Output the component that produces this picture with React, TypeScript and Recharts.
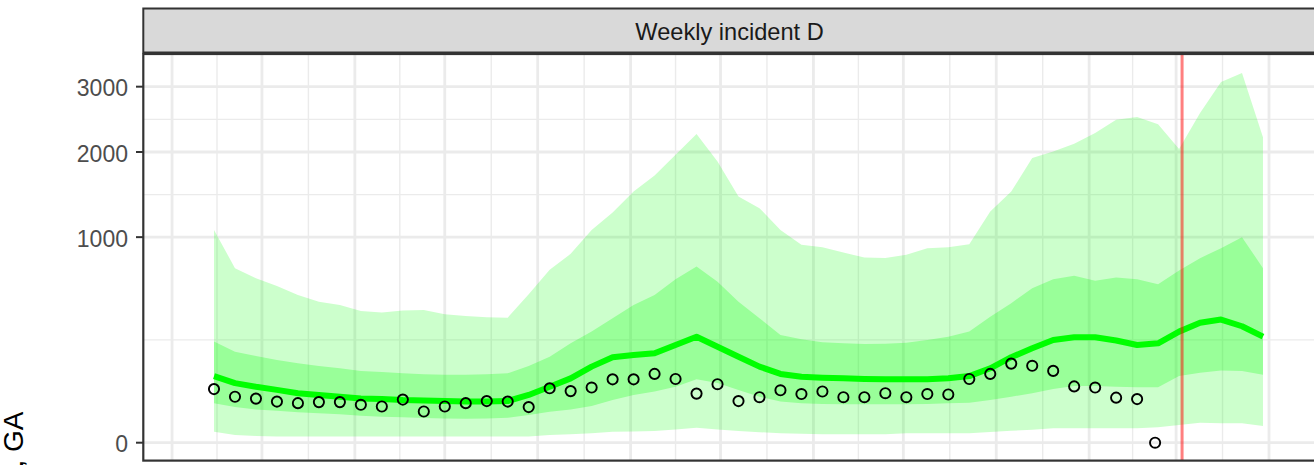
import React from 'react';
import { ComposedChart, Area, Line, Scatter, XAxis, YAxis, CartesianGrid, ReferenceLine } from 'recharts';

// ---- data -------------------------------------------------------------
const modelDates = [
  '2023-04-15','2023-04-22','2023-04-29','2023-05-06','2023-05-13','2023-05-20','2023-05-27',
  '2023-06-03','2023-06-10','2023-06-17','2023-06-24','2023-07-01','2023-07-08','2023-07-15',
  '2023-07-22','2023-07-29','2023-08-05','2023-08-12','2023-08-19','2023-08-26','2023-09-02',
  '2023-09-09','2023-09-16','2023-09-23','2023-09-30','2023-10-07','2023-10-14','2023-10-21',
  '2023-10-28','2023-11-04','2023-11-11','2023-11-18','2023-11-25','2023-12-02','2023-12-09',
  '2023-12-16','2023-12-23','2023-12-30','2024-01-06','2024-01-13','2024-01-20','2024-01-27',
  '2024-02-03','2024-02-10','2024-02-17','2024-02-24','2024-03-02','2024-03-09','2024-03-16',
  '2024-03-23','2024-03-30',
];
const q95 = [1072,721,641,582,517,471,449,411,401,413,417,391,380,373,370,522,707,844,1072,1254,1494,1690,1962,2254,1872,1435,1302,1072,927,905,856,811,808,835,896,905,933,1265,1494,1917,2007,2115,2269,2470,2510,2400,2040,2571,3080,3235,2210];
const q75 = [242,196,178,162,149,139,131,122,118,114,111,109,109,111,114,139,175,234,292,367,449,517,633,734,614,471,367,275,253,239,234,231,232,237,250,266,292,376,461,565,633,659,620,645,633,595,701,806,896,1000,721];
const median = [105,84,74,66,58,54,50,46,45,43,42,41,40,40,41,54,74,98,137,173,182,189,226,266,218,175,137,112,103,100,98,96,95,95,95,98,105,131,173,211,250,263,263,247,226,234,292,341,359,321,266];
const q25 = [37,30,26,24,22,20.5,19,17.3,16,15.3,14.5,14,13.5,14,14.8,18,22.8,26,32,43,54,62,74,95,84,66,50,40,37,35.5,35,35,35,35,35.5,37,38,43,50,58,68,76,76,74,73,73,105,116,123,122,109];
const q05 = [2.9,1.4,1.1,0.9,0.9,0.9,0.9,0.9,0.9,0.9,0.9,0.9,0.9,0.9,0.9,0.9,1.4,1.7,2.1,2.9,3.0,3.2,4.2,5.3,4.2,3.2,2.6,2.1,1.9,1.7,1.7,1.7,1.7,2.1,2.1,2.1,2.1,2.7,3.4,4.0,4.9,4.9,4.9,4.9,4.9,5.6,7.4,9.5,8.9,8.9,6.6];

const observedDates = [...modelDates.slice(0, 45), '2024-02-23'];
const observed = [68,50,46,40,37,39,39,34,31,44,23,31,37,41,40,30,70,63,72,95,95,112,96,57,81,41,49,65,56,62,49,49,58,49,56,55,96,112,148,140,122,75,72,48,45,0];

const forecastDate = '2024-03-03';
const monthBreaks = ['2023-04-01','2023-05-01','2023-06-01','2023-07-01','2023-08-01','2023-09-01','2023-10-01','2023-11-01','2023-12-01','2024-01-01','2024-02-01','2024-03-01','2024-04-01'];
const yTicks = [0, 1000, 2000, 3000];
const stripLabel = 'Weekly incident D';
const yTitle = 'Weekly incident deaths, GA';

// ---- helpers ----------------------------------------------------------
const toDay = (s: string) =>
  (Date.UTC(+s.slice(0, 4), +s.slice(5, 7) - 1, +s.slice(8, 10)) - Date.UTC(2023, 3, 15)) / 86400000;

const modelData = modelDates.map((d, i) => ({
  day: toDay(d),
  outer: [q05[i], q95[i]],
  inner: [q25[i], q75[i]],
  median: median[i],
}));
const obsData = observedDates.map((d, i) => ({ day: toDay(d), value: observed[i] }));

const xMajor = monthBreaks.map(toDay);
const xMinor = xMajor.slice(1).map((v, i) => (v + xMajor[i]) / 2);
const yMinor = yTicks.slice(1).map((v, i) => Math.pow((Math.sqrt(v) + Math.sqrt(yTicks[i])) / 2, 2));

const FONT = '"Liberation Sans", Arial, Helvetica, sans-serif';

const OpenCircle = (props: any) => (
  <circle cx={props.cx} cy={props.cy} r={5.1} fill="none" stroke="#000" strokeWidth={1.9} />
);

export default function App() {
  return (
    <div style={{ position: 'absolute', left: 0, top: 0, width: 1314, height: 466, overflow: 'hidden', background: '#fff' }}>
      <ComposedChart
        width={1314}
        height={466}
        data={modelData}
        margin={{ top: 54, right: 0, bottom: 5, left: 0 }}
        style={{ fontFamily: FONT }}
      >
        <CartesianGrid
          stroke="#EBEBEB"
          strokeWidth={1.4}
          horizontalValues={yMinor}
          verticalValues={xMinor}
          syncWithTicks={false}
        />
        <CartesianGrid
          stroke="#EBEBEB"
          strokeWidth={2.8}
          horizontalValues={yTicks}
          verticalValues={xMajor}
          syncWithTicks={false}
        />
        <XAxis dataKey="day" type="number" domain={[-23.69, 367.02]} allowDataOverflow hide />
        <YAxis
          type="number"
          scale="sqrt"
          domain={[-7.93, 3576]}
          allowDataOverflow
          ticks={yTicks}
          interval={0}
          width={143}
          axisLine={false}
          tickSize={7}
          tickMargin={8}
          tickLine={{ stroke: '#333333', strokeWidth: 2 }}
          tick={{ fontSize: 23, fill: '#4D4D4D', fontFamily: FONT, dy: 1.5 }}
        />
        <Area dataKey="outer" type="linear" stroke="none" fill="#00FF00" fillOpacity={0.2} isAnimationActive={false} activeDot={false} />
        <Area dataKey="inner" type="linear" stroke="none" fill="#00FF00" fillOpacity={0.25} isAnimationActive={false} activeDot={false} />
        <Line dataKey="median" type="linear" stroke="#00FF00" strokeWidth={6} strokeLinejoin="round" dot={false} activeDot={false} isAnimationActive={false} />
        <Scatter data={obsData} dataKey="value" shape={OpenCircle} isAnimationActive={false} />
        <ReferenceLine x={toDay(forecastDate)} stroke="#FF0000" strokeOpacity={0.5} strokeWidth={3} />
      </ComposedChart>
      <svg width={1314} height={466} style={{ position: 'absolute', left: 0, top: 0, pointerEvents: 'none' }}>
        <rect x={143.3} y={8.5} width={1250} height={44} fill="#D9D9D9" stroke="#333333" strokeWidth={2} />
        <text x={729.5} y={39.5} textAnchor="middle" fontSize={23.6} fill="#1A1A1A" fontFamily={FONT}>
          {stripLabel}
        </text>
        <rect x={143.3} y={54} width={1250} height={406.6} fill="none" stroke="#333333" strokeWidth={2.2} />
        <text
          transform="translate(23.3,411.5) rotate(-90)"
          textAnchor="end"
          fontSize={28}
          fill="#000"
          fontFamily={FONT}
        >
          {yTitle}
        </text>
      </svg>
    </div>
  );
}
